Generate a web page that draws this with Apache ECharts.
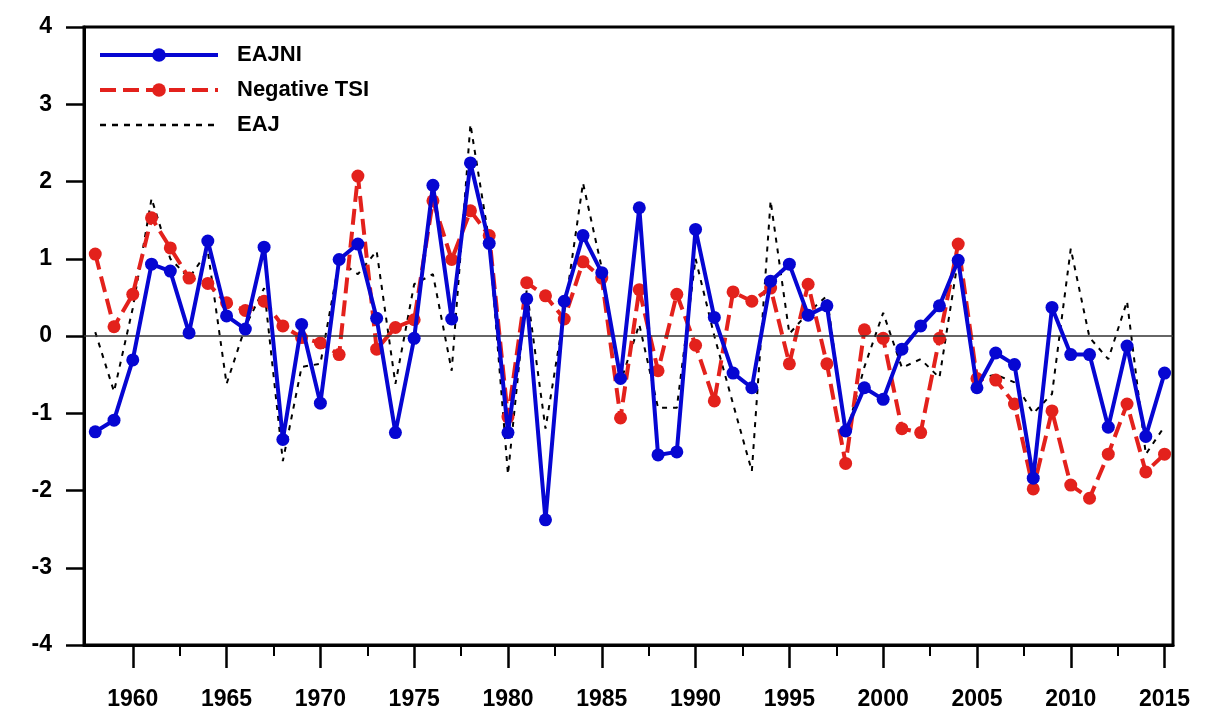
<!DOCTYPE html>
<html>
<head>
<meta charset="utf-8">
<script src="https://cdn.jsdelivr.net/npm/echarts@6/dist/echarts.min.js"></script>
<style>
html,body{margin:0;padding:0;background:#fff;}
#chart{width:1214px;height:724px;}
</style>
</head>
<body>
<div id="chart"></div>
<script>
var years = [1958,1959,1960,1961,1962,1963,1964,1965,1966,1967,1968,1969,1970,1971,1972,1973,1974,1975,1976,1977,1978,1979,1980,1981,1982,1983,1984,1985,1986,1987,1988,1989,1990,1991,1992,1993,1994,1995,1996,1997,1998,1999,2000,2001,2002,2003,2004,2005,2006,2007,2008,2009,2010,2011,2012,2013,2014,2015];

var eajni = [-1.24,-1.09,-0.31,0.93,0.84,0.04,1.23,0.26,0.09,1.15,-1.34,0.15,-0.87,0.99,1.19,0.23,-1.25,-0.03,1.95,0.22,2.24,1.20,-1.25,0.48,-2.38,0.45,1.30,0.82,-0.55,1.66,-1.54,-1.50,1.38,0.24,-0.48,-0.67,0.71,0.93,0.27,0.39,-1.23,-0.67,-0.82,-0.17,0.13,0.39,0.98,-0.67,-0.22,-0.37,-1.84,0.37,-0.24,-0.24,-1.18,-0.13,-1.30,-0.48];

var negTSI = [1.06,0.12,0.54,1.53,1.14,0.75,0.68,0.43,0.33,0.45,0.13,-0.02,-0.09,-0.24,2.07,-0.17,0.11,0.21,1.75,0.99,1.62,1.30,-1.05,0.69,0.52,0.22,0.96,0.75,-1.06,0.60,-0.45,0.54,-0.12,-0.84,0.57,0.45,0.62,-0.36,0.67,-0.36,-1.65,0.08,-0.03,-1.20,-1.25,-0.03,1.19,-0.55,-0.57,-0.88,-1.98,-0.97,-1.93,-2.10,-1.53,-0.88,-1.76,-1.53];

var eaj = [0.05,-0.72,0.36,1.78,1.00,0.75,1.10,-0.62,0.12,0.62,-1.62,-0.40,-0.36,0.97,0.80,1.10,-0.62,0.67,0.80,-0.45,2.74,1.23,-1.79,0.60,-1.20,0.30,1.98,0.88,-0.60,0.15,-0.93,-0.93,1.00,0.00,-0.88,-1.75,1.75,0.03,0.30,0.52,-1.30,-0.40,0.30,-0.41,-0.30,-0.54,1.00,-0.55,-0.50,-0.60,-1.00,-0.75,1.13,-0.02,-0.30,0.45,-1.53,-1.17];

var majorTicks = [1960,1965,1970,1975,1980,1985,1990,1995,2000,2005,2010,2015];
var minorTicks = [1962.5,1967.5,1972.5,1977.5,1982.5,1987.5,1992.5,1997.5,2002.5,2007.5,2012.5];

function pairs(vals){ return years.map(function(y,i){ return [y, vals[i]]; }); }

var FONT = '"Liberation Sans", Arial, sans-serif';
var BLUE = '#0606d2', RED = '#e3211c';
var chart = echarts.init(document.getElementById('chart'), null, {renderer:'canvas'});
var option = {
  backgroundColor:'#fff',
  animation:false,
  grid:{left:84,right:41,top:27,bottom:79,show:true,borderColor:'#000',borderWidth:3,backgroundColor:'transparent'},
  legend:{
    orient:'vertical', left:93, top:39, itemWidth:118, itemHeight:17, itemGap:13,
    textStyle:{fontFamily:FONT,fontWeight:'bold',fontSize:22,color:'#000',padding:[0,0,0,14]},
    data:[
      {name:'EAJNI', lineStyle:{width:4,color:BLUE}},
      {name:'Negative TSI', lineStyle:{width:4,color:RED,type:[16,7]}},
      {name:'EAJ', lineStyle:{width:2.5,color:'#000',type:[6,6]}, itemStyle:{color:'rgba(0,0,0,0)',opacity:0}}
    ]
  },
  xAxis:[{
    type:'value', min:1957.4, max:2015.45, position:'bottom',
    axisLine:{show:true,onZero:false,lineStyle:{color:'#000',width:3}},
    axisTick:{show:true,inside:false,length:23,customValues:majorTicks,lineStyle:{color:'#000',width:2.5}},
    axisLabel:{show:true,customValues:majorTicks,margin:43,fontFamily:FONT,fontWeight:'bold',fontSize:23,color:'#000',formatter:function(v){return String(v);}},
    splitLine:{show:false}
  },{
    type:'value', min:1957.4, max:2015.45, position:'bottom',
    axisLine:{show:false,onZero:false},
    axisTick:{show:true,inside:false,length:11,customValues:minorTicks,lineStyle:{color:'#000',width:2}},
    axisLabel:{show:false},
    splitLine:{show:false}
  }],
  yAxis:{
    type:'value', min:-4, max:4, interval:1,
    axisLine:{show:true,onZero:false,lineStyle:{color:'#000',width:3}},
    axisTick:{show:true,inside:false,length:18,lineStyle:{color:'#000',width:2.5}},
    axisLabel:{margin:32,fontFamily:FONT,fontWeight:'bold',fontSize:23,color:'#000'},
    splitLine:{show:false}
  },
  series:[{
    name:'EAJNI', type:'line', data:pairs(eajni), z:5,
    symbol:'circle', symbolSize:13, showSymbol:true,
    lineStyle:{color:BLUE,width:4},
    itemStyle:{color:BLUE}
  },{
    name:'Negative TSI', type:'line', data:pairs(negTSI), z:4,
    symbol:'circle', symbolSize:13,
    lineStyle:{color:RED,width:4,type:[16,7]},
    itemStyle:{color:RED}
  },{
    name:'EAJ', type:'line', data:pairs(eaj), z:3,
    symbol:'none',
    lineStyle:{color:'#000',width:2,type:[5,6]},
    itemStyle:{color:'#000'},
    markLine:{silent:true,symbol:'none',label:{show:false},lineStyle:{color:'#333',width:1.5,type:'solid'},data:[{yAxis:0}]}
  }]
};
chart.setOption(option);
</script>
</body>
</html>
